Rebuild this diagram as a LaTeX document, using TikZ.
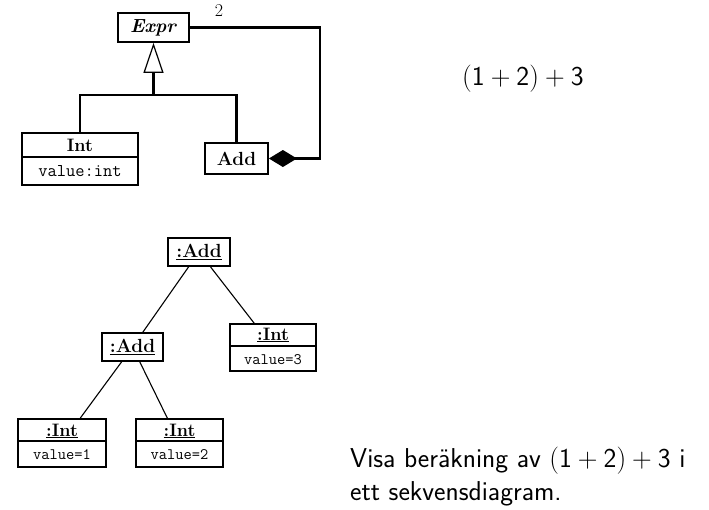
\documentclass[tikz,border=0pt]{standalone}
\usetikzlibrary{arrows.meta}
\newcommand{\slidetext}[1]{\scalebox{1.097}{\fontsize{24.88}{30}\sffamily #1}}
\begin{document}
\begin{tikzpicture}[x=1pt,y=-1pt,
  box/.style={draw, line width=1.8pt, inner sep=0pt, font=\fontsize{19}{22}\selectfont\bfseries},
  txt/.style={inner sep=0pt, font=\fontsize{18}{22}\selectfont\bfseries},
  val/.style={inner sep=0pt, font=\fontsize{18}{22}\ttfamily},
  sval/.style={inner sep=0pt, font=\fontsize{16}{20}\ttfamily},
  obj/.style={draw, line width=1.6pt, inner sep=0pt, font=\fontsize{19}{22}\selectfont\bfseries},
  thickline/.style={line width=2.4pt},
  thinline/.style={line width=1.1pt},
  slide/.style={inner sep=0pt, anchor=base west}
]
\useasboundingbox (0,0) rectangle (709,509);

% ---- class diagram ----
\node[box, minimum width=71pt, minimum height=29pt] (expr) at (153.5,27.5) {\textit{Expr}};
\node[box, minimum width=116pt, minimum height=52pt] (int) at (80,159) {};
\node[txt] (intname) at (80,145.5) {Int};
\node[val] (intval) at (80,171.5) {value:int};
\draw[line width=1.8pt] (int.north west) ++(0,25) -- ++(116,0);
\node[box, minimum width=63pt, minimum height=31pt] (add) at (236.5,158.5) {Add};

\coordinate (j) at (153.5,95);
\draw[thickline] (int.north) |- (j) -| (add.north);
\draw[thickline, -{Triangle[open, length=30pt, width=20pt, line width=1.2pt]}] (j) -- (expr.south);

\coordinate (c) at (320,158.5);
\draw[thickline, {Diamond[length=28pt, width=17pt]}-] (add.east) -- (c) |- (expr.east);
\node[inner sep=0pt, font=\fontsize{18}{20}\selectfont] (mult) at (219,11) {2};

% ---- object diagram ----
\node[obj, minimum width=62pt, minimum height=28pt] (addtop) at (199,252) {\underline{:Add}};
\node[obj, minimum width=61pt, minimum height=28pt] (addmid) at (132.5,347) {\underline{:Add}};
\node[obj, minimum width=86pt, minimum height=47pt] (int3) at (273,347.5) {};
\node[txt] (int3n) at (273,335) {\underline{:Int}};
\node[sval] (int3v) at (273,359.5) {value=3};
\draw[line width=1.6pt] (int3.north west) ++(0,23) -- ++(86,0);
\node[obj, minimum width=88pt, minimum height=48pt] (int1) at (62,443) {};
\node[txt] (int1n) at (62,431) {\underline{:Int}};
\node[sval] (int1v) at (62,455) {value=1};
\draw[line width=1.6pt] (int1.north west) ++(0,23) -- ++(88,0);
\node[obj, minimum width=87pt, minimum height=48pt] (int2) at (179.5,443) {};
\node[txt] (int2n) at (179.5,431) {\underline{:Int}};
\node[sval] (int2v) at (179.5,455) {value=2};
\draw[line width=1.6pt] (int2.north west) ++(0,23) -- ++(87,0);

\draw[thinline] (addtop) -- (addmid);
\draw[thinline] (addtop) -- (int3);
\draw[thinline] (addmid) -- (int1);
\draw[thinline] (addmid) -- (int2);

% ---- slide text ----
\node[slide] (expr1) at (462,85) {\slidetext{$(\mathsf{1}+\mathsf{2})+\mathsf{3}$}};
\node[slide] (task1) at (350,467) {\slidetext{Visa beräkning av $(\mathsf{1}+\mathsf{2})+\mathsf{3}$ i}};
\node[slide] (task2) at (350,500) {\slidetext{ett sekvensdiagram.}};
\end{tikzpicture}
\end{document}
